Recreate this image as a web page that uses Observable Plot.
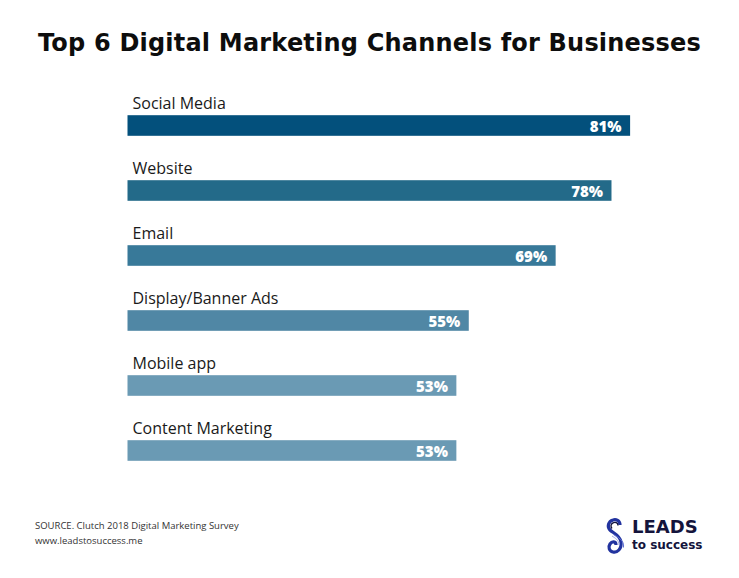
<!DOCTYPE html>
<html>
<head>
<meta charset="utf-8">
<script src="https://cdn.jsdelivr.net/npm/d3@7"></script>
<script src="https://cdn.jsdelivr.net/npm/@observablehq/plot@0.6"></script>
<style>
  html, body { margin: 0; padding: 0; background: #fff; }
  #wrap { position: relative; width: 739px; height: 578px; background: #fff; overflow: hidden; font-family: "Open Sans", sans-serif; }
  #title { position: absolute; left: 0; top: 29px; width: 739px; text-align: center; font-family: "DejaVu Sans", sans-serif; font-weight: 700; font-size: 24px; line-height: 28px; letter-spacing: 0.2px; color: #0d0d0d; white-space: nowrap; }
  #chart { position: absolute; left: 0; top: 80px; }
  #foot { position: absolute; left: 35px; top: 518px; font-size: 9.5px; line-height: 15px; color: #333; }
  #logo { position: absolute; left: 604px; top: 514px; width: 110px; height: 40px; }
  #logo .l1 { position: absolute; left: 28px; top: 2.4px; font-family: "DejaVu Sans", sans-serif; font-weight: 700; font-size: 18px; line-height: 21px; color: #14143c; }
  #logo .l2 { position: absolute; left: 28px; top: 23.5px; font-family: "DejaVu Sans", sans-serif; font-weight: 700; font-size: 12px; line-height: 14px; color: #14143c; }
</style>
</head>
<body>
<div id="wrap">
  <div id="title">Top 6 Digital Marketing Channels for Businesses</div>
  <div id="chart"></div>
  <div id="foot">SOURCE. Clutch 2018 Digital Marketing Survey<br>www.leadstosuccess.me</div>
  <div id="logo">
    <svg width="24" height="40" viewBox="0 0 24 40" style="position:absolute;left:0;top:3px">
      <path d="M16,8 C16,3.5 12,2 9,3 C4,4.5 3,10 6,13 C9,16 16,18 17,25 C18,32 13,36 9,35 C5,34 4,30 6,27 C8,24 12,24 12,28" fill="none" stroke="#22339f" stroke-width="3.2"/>
      <path d="M14,8.5 C14,5.5 11,4.8 9,5.8 C6.5,7 6.5,10 8,11.5" fill="none" stroke="#14143c" stroke-width="1.4"/>
      <path d="M9.5,17.5 C14,20.5 20.5,23 19.5,30.5" fill="none" stroke="#6070d4" stroke-width="1"/>
      <path d="M8,19 C11,21 15,23 15,28" fill="none" stroke="#8a96e0" stroke-width="0.8"/>
    </svg>
    <div class="l1">LEADS</div>
    <div class="l2">to success</div>
  </div>
</div>
<script>
const channels = ["Social Media", "Website", "Email", "Display/Banner Ads", "Mobile app", "Content Marketing"];
const values = [81, 78, 69, 55, 53, 53];
const barColors = ["#03507c", "#236a89", "#387999", "#5087a5", "#6a9ab4", "#6a9ab4"];

const data = channels.map((c, i) => ({channel: c, value: values[i]}));

const chart = Plot.plot({
  width: 739,
  height: 400,
  marginLeft: 0,
  marginRight: 0,
  marginTop: 0,
  marginBottom: 0,
  style: {fontFamily: "'Open Sans', sans-serif", background: "transparent"},
  x: {domain: [0, 100], range: [127.5, 748], axis: null},
  y: {domain: channels, range: [11.8, 404.2], padding: 0, axis: null},
  color: {domain: channels, range: barColors},
  marks: [
    Plot.barX(data, {x: "value", y: "channel", fill: "channel", insetTop: 22.2, insetBottom: 22.2}),
    Plot.text(data, {x: 0, y: "channel", text: "channel", textAnchor: "start", dx: 4.5, dy: -22, fontSize: 16, fill: "#1a1a1a"}),
    Plot.text(data, {x: "value", y: "channel", text: d => d.value + "%", textAnchor: "end", dx: -9, dy: 1, fontSize: 15, fontWeight: 800, fill: "white"})
  ]
});
document.getElementById("chart").appendChild(chart);
</script>
</body>
</html>
